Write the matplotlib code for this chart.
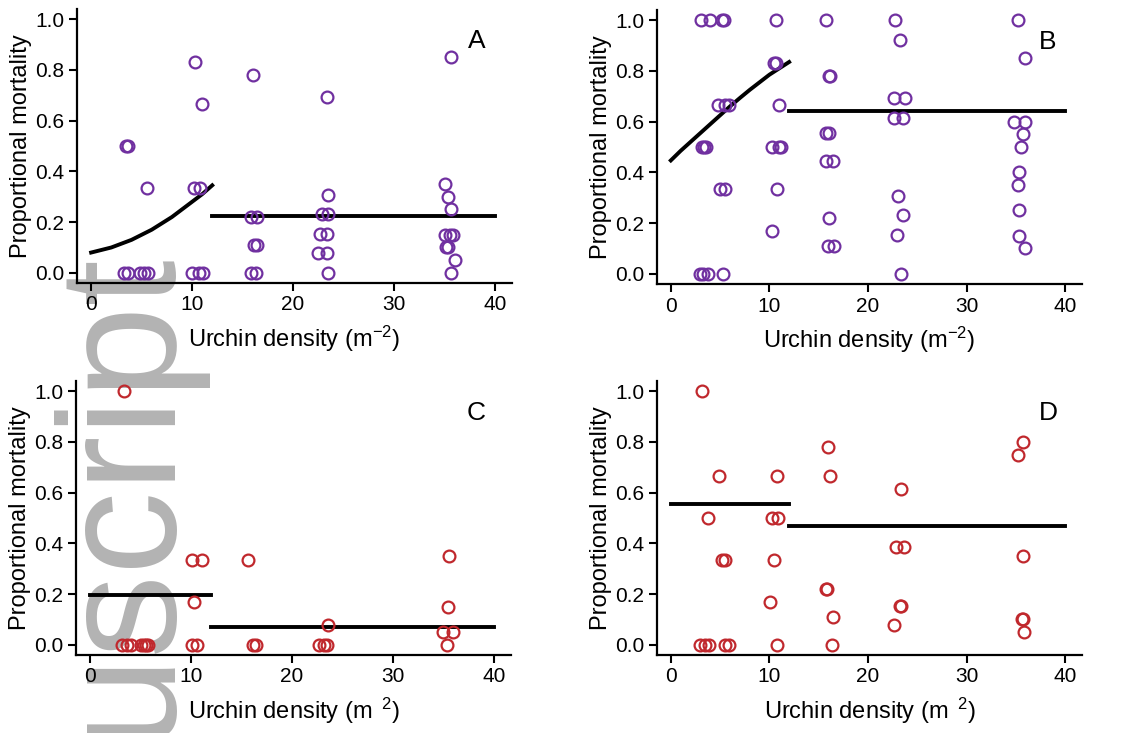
import matplotlib.pyplot as plt

plt.rcParams['font.family'] = ['Liberation Sans', 'DejaVu Sans']
plt.rcParams['mathtext.fontset'] = 'custom'
plt.rcParams['mathtext.rm'] = 'Liberation Sans'
plt.rcParams['mathtext.it'] = 'Liberation Sans:italic'

PURPLE = '#7030a0'
RED = '#c0282d'

# panel A
a_x = [3.5, 3.7, 3.3, 3.7, 4.8, 5.2, 5.6, 5.5, 10.3, 11.0, 10.2, 10.8, 10.0, 10.7, 11.1,
       16.0, 15.8, 16.4, 16.1, 16.4, 15.8, 16.3,
       23.4, 23.5, 22.9, 23.5, 22.7, 23.4, 22.5, 23.4, 23.5,
       35.7, 35.1, 35.4, 35.7, 35.1, 35.6, 35.9, 35.2, 35.4, 36.1, 35.7]
a_y = [0.5, 0.5, 0, 0, 0, 0, 0, 0.333, 0.833, 0.667, 0.333, 0.333, 0, 0, 0,
       0.778, 0.222, 0.222, 0.111, 0.111, 0, 0,
       0.692, 0.308, 0.231, 0.231, 0.154, 0.154, 0.077, 0.077, 0,
       0.85, 0.35, 0.30, 0.25, 0.15, 0.15, 0.15, 0.10, 0.10, 0.05, 0]
a_fit_x = [0, 1, 2, 3, 4, 5, 6, 7, 8, 9, 10, 11, 12]
a_fit_y = [0.08, 0.09, 0.10, 0.115, 0.13, 0.15, 0.17, 0.195, 0.22, 0.25, 0.28, 0.31, 0.345]
a_flat = 0.225

# panel B
b_x = [3.1, 4.0, 5.2, 5.4, 10.7, 15.7, 22.7, 35.2,
       23.2, 35.9, 10.5, 10.7, 16.0, 16.1, 22.6, 23.7, 22.6, 23.5,
       11.0, 4.8, 5.5, 5.9,
       34.8, 35.9, 35.7, 35.5, 35.3, 35.2, 35.3, 35.3, 35.9,
       15.7, 16.0, 15.7, 16.4, 16.0, 15.9, 16.5,
       23.0, 23.5, 22.9, 23.3,
       10.3, 11.0, 11.2, 10.8, 10.3,
       3.2, 3.4, 3.6, 5.0, 5.5, 3.0, 3.3, 3.8, 5.3]
b_y = [1, 1, 1, 1, 1, 1, 1, 1,
       0.923, 0.85, 0.833, 0.833, 0.778, 0.778, 0.692, 0.692, 0.615, 0.615,
       0.667, 0.667, 0.667, 0.667,
       0.6, 0.6, 0.55, 0.5, 0.4, 0.35, 0.25, 0.15, 0.1,
       0.556, 0.556, 0.444, 0.444, 0.222, 0.111, 0.111,
       0.308, 0.231, 0.154, 0,
       0.5, 0.5, 0.5, 0.333, 0.167,
       0.5, 0.5, 0.5, 0.333, 0.333, 0, 0, 0, 0]
b_fit_x = [0, 1, 2, 3, 4, 5, 6, 7, 8, 9, 10, 11, 12]
b_fit_y = [0.447, 0.485, 0.52, 0.555, 0.59, 0.625, 0.66, 0.693, 0.725, 0.755, 0.785, 0.81, 0.835]
b_flat = 0.64

# panel C
c_x = [3.4, 3.2, 3.7, 4.0, 5.0, 5.3, 5.5, 5.7, 10.1, 10.6, 16.1, 16.4, 22.7, 23.2, 23.5, 35.4,
       10.1, 11.1, 10.3, 15.6, 23.6, 35.6, 35.5, 35.0, 36.0]
c_y = [1.0, 0, 0, 0, 0, 0, 0, 0, 0, 0, 0, 0, 0, 0, 0, 0,
       0.333, 0.333, 0.167, 0.333, 0.077, 0.35, 0.15, 0.05, 0.05]
c_left = 0.195
c_right = 0.07

# panel D
d_x = [3.2, 4.9, 3.8, 5.2, 5.5, 3.0, 3.5, 3.9, 5.5, 5.9,
       10.8, 10.3, 10.9, 10.5, 10.1, 10.8,
       15.9, 16.1, 15.7, 15.8, 16.4, 16.3,
       23.3, 22.8, 23.6, 23.2, 23.3, 22.6,
       35.7, 35.2, 35.7, 35.6, 35.7, 35.8]
d_y = [1.0, 0.667, 0.5, 0.333, 0.333, 0, 0, 0, 0, 0,
       0.667, 0.5, 0.5, 0.333, 0.167, 0,
       0.778, 0.667, 0.222, 0.222, 0.111, 0,
       0.615, 0.385, 0.385, 0.154, 0.154, 0.077,
       0.80, 0.75, 0.35, 0.1, 0.1, 0.05]
d_left = 0.555
d_right = 0.47

breakpoint_x = 12
x_end = 40

W, H = 1133, 733
fig = plt.figure(figsize=(W / 100, H / 100), dpi=100)


def panel(rect, letter, xs, ys, color, xlabel):
    ax = fig.add_axes([rect[0] / W, 1 - rect[1] / H, rect[2] / W, 274 / H])
    ax.set_facecolor('none')
    ax.plot(xs, ys, 'o', ms=8.5, mfc='none', mec=color, mew=1.6, zorder=3)
    ax.set_xlim(-1.4, 41.7)
    ax.set_ylim(-0.04, 1.04)
    ax.set_xticks([0, 10, 20, 30, 40])
    ax.set_yticks([0, 0.2, 0.4, 0.6, 0.8, 1.0])
    ax.set_yticklabels(['0.0', '0.2', '0.4', '0.6', '0.8', '1.0'])
    for s in ['top', 'right']:
        ax.spines[s].set_visible(False)
    for s in ['left', 'bottom']:
        ax.spines[s].set_linewidth(1.6)
    ax.tick_params(labelsize=15, width=1.5, length=6, pad=3)
    ax.set_ylabel('Proportional mortality', fontsize=17, labelpad=2)
    ax.set_xlabel(xlabel, fontsize=17, labelpad=7)
    ax.text(0.92, 0.885, letter, transform=ax.transAxes, fontsize=19,
            ha='center', va='center')
    return ax


lab_ok = r'Urchin density (m$^{-2}$)'
lab_gap = r'Urchin density (m$^{\ \ 2}$)'

ax = panel((77, 283, 435), 'A', a_x, a_y, PURPLE, lab_ok)
ax.plot(a_fit_x, a_fit_y, color='black', lw=2.8)
ax.plot([breakpoint_x, x_end], [a_flat, a_flat], color='black', lw=2.8)

ax = panel((657, 284, 425), 'B', b_x, b_y, PURPLE, lab_ok)
ax.plot(b_fit_x, b_fit_y, color='black', lw=2.8)
ax.plot([breakpoint_x, x_end], [b_flat, b_flat], color='black', lw=2.8)

ax = panel((76, 655, 435), 'C', c_x, c_y, RED, lab_gap)
ax.plot([0, breakpoint_x], [c_left, c_left], color='black', lw=2.8)
ax.plot([breakpoint_x, x_end], [c_right, c_right], color='black', lw=2.8)

ax = panel((657, 655, 425), 'D', d_x, d_y, RED, lab_gap)
ax.plot([0, breakpoint_x], [d_left, d_left], color='black', lw=2.8)
ax.plot([breakpoint_x, x_end], [d_right, d_right], color='black', lw=2.8)

# watermark
fig.text(165 / W, 1 - 739 / H, 'uscript', rotation=90, rotation_mode='anchor',
         ha='left', va='baseline', fontsize=120, color='#b3b3b3', zorder=-1)

fig.savefig('out.png', dpi=100)
